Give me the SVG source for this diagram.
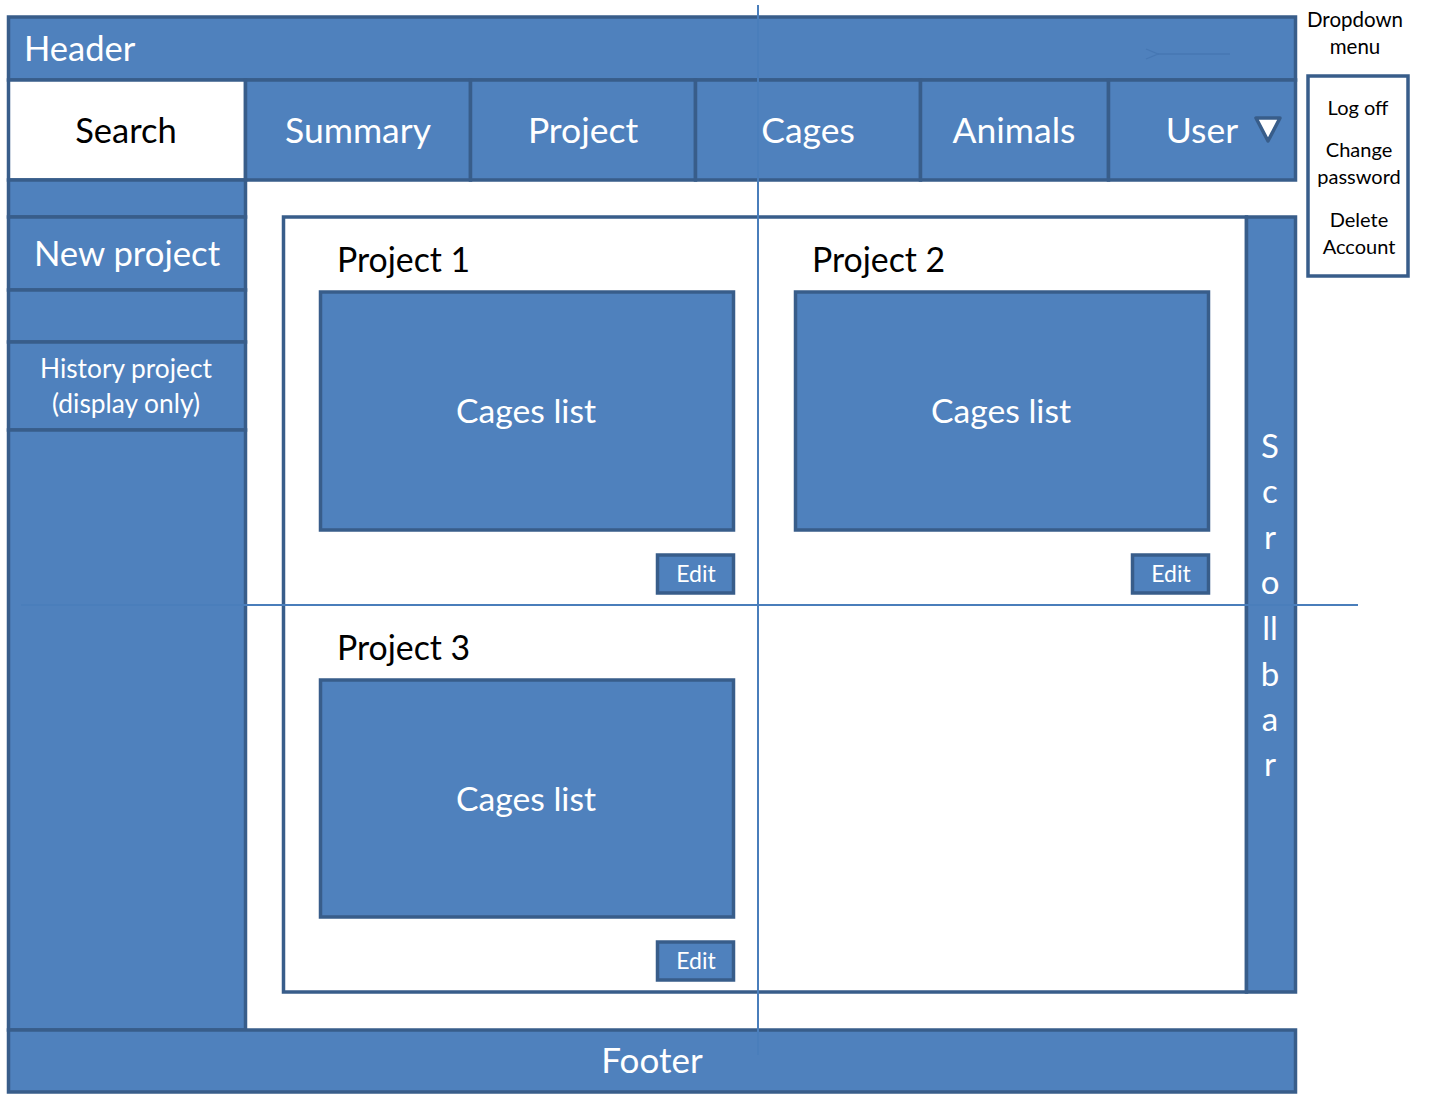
<svg xmlns="http://www.w3.org/2000/svg" width="1441" height="1107" viewBox="0 0 1441 1107">
<defs>
<style>
.b{fill:#4F81BD;stroke:#385D8A;stroke-width:3.5}
.w{fill:#FFFFFF;stroke:#385D8A;stroke-width:3.5}
.t{font-family:Lato,"Open Sans",sans-serif;fill:#FFFFFF}
.k{font-family:Lato,"Open Sans",sans-serif;fill:#000000}
.c{text-anchor:middle}
.sb{font-family:Lato,"Open Sans",sans-serif;fill:#FFFFFF;text-anchor:middle;font-size:33px}
.guide{stroke:#4A7EBB;stroke-width:2;fill:none}
</style>
<marker id="ah" markerWidth="14" markerHeight="12" refX="1" refY="6" orient="auto" markerUnits="userSpaceOnUse">
<path d="M13,1 L1,6 L13,11" fill="none" stroke="#4677B3" stroke-width="1.3"/>
</marker>
</defs>
<rect x="0" y="0" width="1441" height="1107" fill="#FFFFFF"/>

<g id="header">
<rect class="b" x="8.5" y="17" width="1287" height="63"/>
<text class="t" x="24" y="61" font-size="34.5">Header</text>
</g>

<g id="search">
<rect class="w" x="8.5" y="80" width="237" height="100"/>
<text class="k c" x="126" y="143" font-size="34.5">Search</text>
</g>
<g id="tab-summary">
<rect class="b" x="245.5" y="80" width="225" height="100"/>
<text class="t c" x="358" y="143" font-size="35.5">Summary</text>
</g>
<g id="tab-project">
<rect class="b" x="470.5" y="80" width="225" height="100"/>
<text class="t c" x="583" y="143" font-size="35.5">Project</text>
</g>
<g id="tab-cages">
<rect class="b" x="695.5" y="80" width="225" height="100"/>
<text class="t c" x="808" y="143" font-size="35.5">Cages</text>
</g>
<g id="tab-animals">
<rect class="b" x="920.5" y="80" width="188" height="100"/>
<text class="t c" x="1014" y="143" font-size="35.5">Animals</text>
</g>
<g id="tab-user">
<rect class="b" x="1108.5" y="80" width="187" height="100"/>
<text class="t c" x="1202" y="143" font-size="35.5">User</text>
<path d="M1256,118 L1280,118 L1268,141 Z" fill="#FFFFFF" stroke="#385D8A" stroke-width="3.5" stroke-linejoin="round"/>
</g>

<g id="sidebar">
<rect class="b" x="8.5" y="180" width="237" height="37"/>
<g id="new-project">
<rect class="b" x="8.5" y="217" width="237" height="73"/>
<text class="t c" x="127" y="266" font-size="34.7">New project</text>
</g>
<rect class="b" x="8.5" y="290" width="237" height="52"/>
<g id="history-project">
<rect class="b" x="8.5" y="342" width="237" height="88"/>
<text class="t c" x="126" y="378" font-size="26.3">History project</text>
<text class="t c" x="126" y="413" font-size="26.3">(display only)</text>
</g>
<rect class="b" x="8.5" y="430" width="237" height="600"/>
</g>

<g id="panel">
<rect class="w" x="283.5" y="217" width="963" height="775"/>
</g>

<g id="scrollbar">
<rect class="b" x="1246.5" y="217" width="49" height="775"/>
<text class="sb" x="1270" y="458">S</text>
<text class="sb" x="1270" y="503">c</text>
<text class="sb" x="1270" y="549">r</text>
<text class="sb" x="1270" y="594">o</text>
<text class="sb" x="1270" y="640">ll</text>
<text class="sb" x="1270" y="686">b</text>
<text class="sb" x="1270" y="731">a</text>
<text class="sb" x="1270" y="776">r</text>
</g>

<g id="project1">
<text class="k" x="337" y="272" font-size="33.8">Project 1</text>
<rect class="b" x="320.5" y="292" width="413" height="238"/>
<text class="t c" x="526" y="423" font-size="33.7">Cages list</text>
</g>
<g id="edit1">
<rect class="b" x="657.5" y="555" width="76" height="38"/>
<text class="t c" x="696" y="582" font-size="23">Edit</text>
</g>

<g id="project2">
<text class="k" x="812" y="272" font-size="33.8">Project 2</text>
<rect class="b" x="795.5" y="292" width="413" height="238"/>
<text class="t c" x="1001" y="423" font-size="33.7">Cages list</text>
</g>
<g id="edit2">
<rect class="b" x="1132.5" y="555" width="76" height="38"/>
<text class="t c" x="1171" y="582" font-size="23">Edit</text>
</g>

<g id="project3">
<text class="k" x="337" y="660" font-size="33.8">Project 3</text>
<rect class="b" x="320.5" y="680" width="413" height="237"/>
<text class="t c" x="526" y="811" font-size="33.7">Cages list</text>
</g>
<g id="edit3">
<rect class="b" x="657.5" y="942" width="76" height="38"/>
<text class="t c" x="696" y="969" font-size="23">Edit</text>
</g>

<g id="footer">
<rect class="b" x="8.5" y="1030" width="1287" height="62"/>
<text class="t c" x="652" y="1073" font-size="35">Footer</text>
</g>

<g id="dropdown-label">
<text class="k c" x="1355" y="27" font-size="20.5">Dropdown</text>
<text class="k c" x="1355" y="54" font-size="20.5">menu</text>
</g>
<g id="dropdown-menu">
<rect class="w" x="1308" y="76" width="100" height="200"/>
<text class="k c" x="1358" y="115" font-size="20">Log off</text>
<text class="k c" x="1359" y="157" font-size="20">Change</text>
<text class="k c" x="1359" y="184" font-size="20">password</text>
<text class="k c" x="1359" y="227" font-size="20">Delete</text>
<text class="k c" x="1359" y="254" font-size="20">Account</text>
</g>

<g id="connectors">
<line x1="1230" y1="54" x2="1158" y2="54" stroke="#4677B3" stroke-width="1.3" marker-end="url(#ah)"/>
<line class="guide" x1="758" y1="5" x2="758" y2="1055"/>
<line class="guide" x1="21" y1="605" x2="1358" y2="605"/>
</g>
</svg>
